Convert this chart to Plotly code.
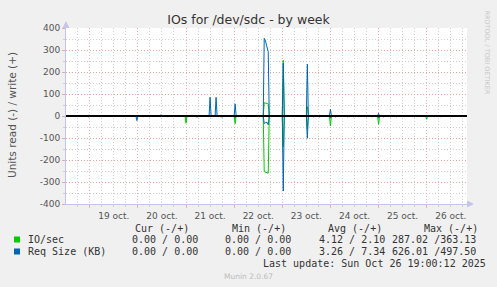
import plotly.graph_objects as go
import pandas as pd

# ---------------- data ----------------
io_write_t = ["2025-10-22 15:00", "2025-10-22 15:30", "2025-10-22 16:00", "2025-10-22 16:30", "2025-10-22 17:00",
              "2025-10-23 00:30", "2025-10-23 12:30"]
io_write_v = [60, 60, 58, 57, 55, 254, 42]

io_read_t = ["2025-10-21 00:00", "2025-10-22 00:30",
             "2025-10-22 15:00", "2025-10-22 15:30", "2025-10-22 16:00", "2025-10-22 16:30", "2025-10-22 17:00",
             "2025-10-23 00:30", "2025-10-23 12:30", "2025-10-24 00:00", "2025-10-25 00:00", "2025-10-26 00:00"]
io_read_v = [33, 35, 253, 255, 258, 258, 260, 140, 60, 45, 38, 15]

kb_write_t = ["2025-10-18 23:30", "2025-10-20 11:30", "2025-10-21 12:00", "2025-10-21 15:00", "2025-10-22 00:30",
              "2025-10-22 15:00", "2025-10-22 15:30", "2025-10-22 16:00", "2025-10-22 16:30", "2025-10-22 17:00",
              "2025-10-23 00:30", "2025-10-23 12:30", "2025-10-24 00:00", "2025-10-25 00:00"]
kb_write_v = [5, 6, 85, 85, 55, 353, 345, 325, 305, 292, 240, 235, 30, 12]

kb_read_t = ["2025-10-18 23:30", "2025-10-19 23:30", "2025-10-20 03:00", "2025-10-20 06:00", "2025-10-20 11:30",
             "2025-10-20 15:00", "2025-10-21 00:00", "2025-10-21 02:30", "2025-10-21 05:30", "2025-10-21 09:00",
             "2025-10-21 18:00", "2025-10-22 00:30", "2025-10-22 03:30", "2025-10-22 06:00", "2025-10-22 12:30",
             "2025-10-22 15:00", "2025-10-22 15:30", "2025-10-22 16:00", "2025-10-22 16:30", "2025-10-22 17:00",
             "2025-10-23 00:30", "2025-10-23 12:30", "2025-10-23 15:30", "2025-10-23 18:30", "2025-10-24 00:00",
             "2025-10-24 02:30", "2025-10-24 08:30", "2025-10-24 11:30", "2025-10-24 18:00", "2025-10-24 21:00",
             "2025-10-25 00:00", "2025-10-25 02:30", "2025-10-25 06:00", "2025-10-25 09:00", "2025-10-25 18:00",
             "2025-10-26 04:00", "2025-10-26 07:00"]
kb_read_v = [4, 21, 4, 4, 4, 5, 6, 4, 6, 4, 6, 8, 4, 4, 4, 35, 30, 30, 30, 40, 341, 101, 4, 4, 8,
             4, 4, 4, 4, 4, 8, 4, 4, 4, 4, 5, 5]

x_start, x_end = "2025-10-18 12:10", "2025-10-26 20:06"
y_ticks = [400, 300, 200, 100, 0, -100, -200, -300, -400]
y_labels = ["400", "300", "200", "100", "0", "-100", "-200", "-300", "-400"]
x_label_fmt = "%d oct."

title = "IOs for /dev/sdc - by week"
y_title = "Units read (-) / write (+)"
header = ["Cur (-/+)", "Min (-/+)", "Avg (-/+)", "Max (-/+)"]
series_names = ["IO/sec", "Req Size (KB)"]
cur_vals = ["0.00 / 0.00", "0.00 / 0.00"]
min_vals = ["0.00 / 0.00", "0.00 / 0.00"]
avg_vals = ["4.12 / 2.10", "3.26 / 7.34"]
max_vals = ["287.02 /363.13", "626.01 /497.50"]
last_update = "Last update: Sun Oct 26 19:00:12 2025"
version = "Munin 2.0.67"
credit = "RRDTOOL / TOBI OETIKER"

GREEN = "#00cc00"
BLUE = "#0066b3"

# ---------------- helpers ----------------
STEP = pd.Timedelta(minutes=30)


def build(times, vals, sign):
    pts = {}
    for t, v in zip(times, vals):
        pts[pd.Timestamp(t)] = sign * v
    for t in list(pts):
        for t2 in (t - STEP, t + STEP):
            if t2 not in pts:
                pts[t2] = 0
    pts[pd.Timestamp(x_start)] = 0
    pts[pd.Timestamp(x_end)] = 0
    ks = sorted(pts)
    return ks, [pts[k] for k in ks]


# plot area in pixels
L, R, T, B = 66, 467, 28, 204
W, H = 497, 287


def px(x):
    return (x - L) / (R - L)


def py(y):
    return (B - y) / (B - T)


fig = go.Figure()
for times, vals, sign, col in [(io_read_t, io_read_v, -1, GREEN), (io_write_t, io_write_v, 1, GREEN),
                               (kb_read_t, kb_read_v, -1, BLUE), (kb_write_t, kb_write_v, 1, BLUE)]:
    xs, ys = build(times, vals, sign)
    fig.add_trace(go.Scatter(x=xs, y=ys, mode="lines", line=dict(color=col, width=1),
                             hoverinfo="skip", showlegend=False))

MAJOR = "rgba(240,150,150,0.75)"
MINOR = "rgba(200,200,200,0.85)"
AXIS = "#c4c4ec"
TICKFONT = dict(family="DejaVu Sans", size=9, color="#555")

fig.update_layout(
    width=W, height=H,
    margin=dict(l=L, r=W - R, t=T, b=H - B, pad=0),
    paper_bgcolor="#f0f0f0", plot_bgcolor="white",
    showlegend=False,
    title=dict(text=title, x=0.5, xref="container", xanchor="center",
               y=1 - 19.5 / H, yref="container", yanchor="middle",
               font=dict(family="DejaVu Sans", size=12.5, color="#333")),
    xaxis=dict(type="date", range=[x_start, x_end], tick0="2025-10-19", dtick=86400000,
               ticklabelmode="period", tickformat=x_label_fmt, tickfont=TICKFONT,
               showgrid=True, gridcolor=MAJOR, griddash="1px,2px", gridwidth=1,
               ticks="outside", ticklen=3, tickcolor=MAJOR,
               minor=dict(dtick=6 * 3600000, showgrid=True, gridcolor=MINOR, griddash="1px,2px",
                          ticks="outside", ticklen=2, tickcolor=MINOR),
               showline=True, linecolor=AXIS, linewidth=1, zeroline=False, fixedrange=True),
    yaxis=dict(range=[-400, 400], tickmode="array", tickvals=y_ticks, ticktext=y_labels,
               tickfont=TICKFONT, showgrid=True, gridcolor=MAJOR, griddash="1px,2px", gridwidth=1,
               ticks="outside", ticklen=3, tickcolor=MAJOR,
               minor=dict(tickmode="linear", tick0=0, dtick=50, showgrid=True, gridcolor=MINOR,
                          griddash="1px,2px", ticks="outside", ticklen=2, tickcolor=MINOR),
               showline=True, linecolor=AXIS, linewidth=1, zeroline=False, fixedrange=True),
)

shapes = [
    dict(type="line", xref="paper", x0=0, x1=1, yref="y", y0=0, y1=0,
         line=dict(color="black", width=2), layer="above"),
    # axis arrows
    dict(type="path", xref="paper", yref="paper",
         path=f"M {px(62.5)},{py(28)} L {px(69.5)},{py(28)} L {px(66)},{py(21)} Z",
         fillcolor=AXIS, line=dict(width=0)),
    dict(type="path", xref="paper", yref="paper",
         path=f"M {px(467)},{py(200.5)} L {px(467)},{py(207.5)} L {px(474)},{py(204)} Z",
         fillcolor=AXIS, line=dict(width=0)),
    # legend swatches
    dict(type="rect", xref="paper", yref="paper", x0=px(14), x1=px(20), y0=py(236.5), y1=py(242.5),
         fillcolor=GREEN, line=dict(width=0)),
    dict(type="rect", xref="paper", yref="paper", x0=px(14), x1=px(20), y0=py(248.5), y1=py(254.5),
         fillcolor=BLUE, line=dict(width=0)),
]
fig.update_layout(shapes=shapes)

MONO = dict(family="DejaVu Sans Mono", size=10, color="#333")
ann = []


def add(text, x, y, anchor="left", font=MONO, angle=0):
    ann.append(dict(text=text, x=px(x), y=py(y), xref="paper", yref="paper", showarrow=False,
                    xanchor=anchor, yanchor="middle", font=font, textangle=angle, borderpad=0))


add(y_title, 12, 115, anchor="center", font=dict(family="DejaVu Sans", size=10.5, color="#555"), angle=-90)
for h, x in zip(header, [134, 230.5, 326.5, 422.5]):
    add(h, x, 228.5)
rows_y = [239.5, 251.5]
for i in range(2):
    y = rows_y[i]
    add(series_names[i], 26.5, y)
    add(cur_vals[i], 130.5, y)
    add(min_vals[i], 224, y)
    add(avg_vals[i], 317.5, y)
    add(max_vals[i], 477, y, anchor="right")
add(last_update, 261.5, 263.5)
add(version, 248, 276, anchor="center", font=dict(family="DejaVu Sans", size=7.5, color="#bbb"))
add(credit, 486.5, 52, anchor="center", font=dict(family="DejaVu Sans", size=6.5, color="#c8c8c8"), angle=90)
fig.update_layout(annotations=ann)

fig.write_html("out.html")
